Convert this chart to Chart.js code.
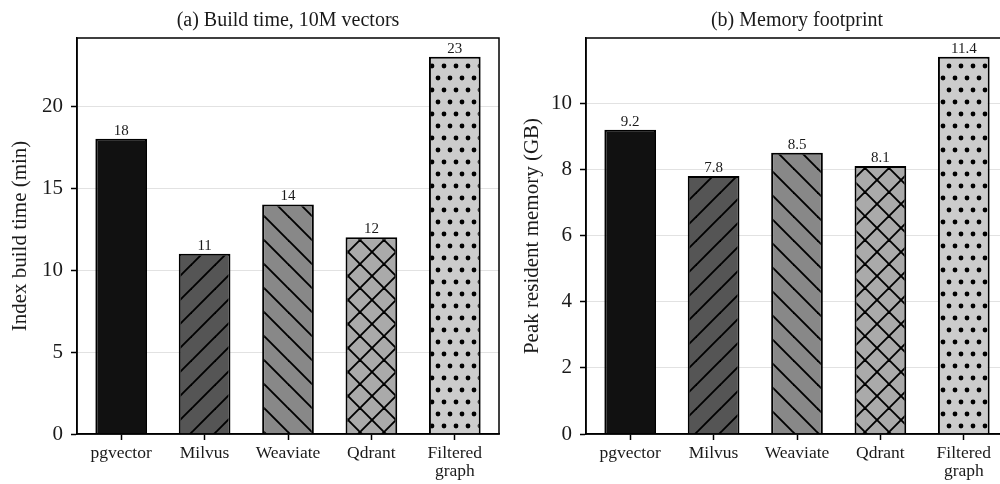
<!DOCTYPE html>
<html>
<head>
<meta charset="utf-8">
<script src="https://cdn.jsdelivr.net/npm/chart.js@4.4.1/dist/chart.umd.min.js"></script>
<style>
  html, body { margin: 0; padding: 0; background: #fff; overflow: hidden; width: 1000px; height: 484px; }
  .panel { position: absolute; top: 0; width: 510px; height: 484px; }
  #left { left: 0; }
  #right { left: 505px; }
</style>
</head>
<body>
<div class="panel" id="left"><canvas id="buildChart" width="510" height="484"></canvas></div>
<div class="panel" id="right"><canvas id="memChart" width="510" height="484"></canvas></div>
<script>
// data
const systems = [['pgvector'], ['Milvus'], ['Weaviate'], ['Qdrant'], ['Filtered', 'graph']];
const buildMinutes = [18, 11, 14, 12, 23];
const memoryGB = [9.2, 7.8, 8.5, 8.1, 11.4];
const buildTicks = [0, 5, 10, 15, 20];
const memTicks = [0, 2, 4, 6, 8, 10];

const FONT = '"Liberation Serif", "Times New Roman", serif';
const INK = '#1a1a1a';

// bar fills: shade + hatch, one per system
const fills = [
    { color: '#111111', hatch: null },
    { color: '#555555', hatch: '/' },
    { color: '#888888', hatch: '\\' },
    { color: '#aaaaaa', hatch: 'x' },
    { color: '#cccccc', hatch: 'dots' },
];

function makeFill(ctx, f) {
    if (!f.hatch) return f.color;
    const s = 24;
    const tile = document.createElement('canvas');
    tile.width = f.hatch === 'dots' ? 12 : s;
    tile.height = s;
    const g = tile.getContext('2d');
    g.fillStyle = f.color;
    g.fillRect(0, 0, tile.width, tile.height);
    g.strokeStyle = '#000';
    g.fillStyle = '#000';
    g.lineWidth = 1.9;
    const line = (x1, y1, x2, y2) => { g.beginPath(); g.moveTo(x1, y1); g.lineTo(x2, y2); g.stroke(); };
    if (f.hatch === '/' || f.hatch === 'x') {
        line(-2, s + 2, s + 2, -2);
        line(-2, 2, 2, -2);
        line(s - 2, s + 2, s + 2, s - 2);
    }
    if (f.hatch === '\\' || f.hatch === 'x') {
        line(-2, -2, s + 2, s + 2);
        line(s - 2, -2, s + 2, 2);
        line(-2, s - 2, 2, s + 2);
    }
    if (f.hatch === 'dots') {
        [[6, 6], [0, 18], [12, 18]].forEach(([x, y]) => {
            g.beginPath(); g.arc(x, y, 2.4, 0, Math.PI * 2); g.fill();
        });
    }
    return ctx.createPattern(tile, 'repeat');
}

// numbers above the bars
const valueLabels = {
    id: 'valueLabels',
    afterDatasetsDraw(chart, args, opts) {
        const ctx = chart.ctx;
        const ds = chart.data.datasets[0];
        ctx.save();
        ctx.font = '15px ' + FONT;
        ctx.fillStyle = INK;
        ctx.textAlign = 'center';
        ctx.textBaseline = 'alphabetic';
        chart.getDatasetMeta(0).data.forEach((bar, i) => {
            ctx.fillText(opts.fmt(ds.data[i].y), bar.x, bar.y - 4);
        });
        ctx.restore();
    }
};

// closed box round the axes
const frame = {
    id: 'frame',
    afterDraw(chart) {
        const { ctx, chartArea: a } = chart;
        ctx.save();
        ctx.strokeStyle = '#000';
        ctx.lineWidth = 1.5;
        ctx.strokeRect(a.left, a.top, a.right - a.left, a.bottom - a.top);
        ctx.restore();
    }
};

function panel(canvasId, cfg) {
    const canvas = document.getElementById(canvasId);
    const ctx = canvas.getContext('2d');
    return new Chart(ctx, {
        type: 'bar',
        data: {
            datasets: [{
                data: cfg.values.map((v, i) => ({ x: i, y: v })),
                backgroundColor: fills.map(f => makeFill(ctx, f)),
                borderColor: '#000',
                borderWidth: 2,
                barPercentage: 0.62,
                categoryPercentage: 1
            }]
        },
        plugins: [valueLabels, frame],
        options: {
            responsive: false,
            animation: false,
            layout: { padding: { left: 0, right: cfg.padRight, top: 0, bottom: 0 } },
            scales: {
                x: {
                    type: 'linear',
                    min: -0.53,
                    max: systems.length - 0.47,
                    offset: false,
                    afterBuildTicks: s => { s.ticks = systems.map((_, i) => ({ value: i })); },
                    ticks: {
                        callback: v => systems[v],
                        font: { family: FONT, size: 17.5, lineHeight: 1.05 },
                        color: INK,
                        padding: 4,
                        autoSkip: false,
                        maxRotation: 0
                    },
                    grid: { drawOnChartArea: false, offset: false, tickColor: '#000', tickLength: 6, tickWidth: 1.5 },
                    border: { color: '#000', width: 1.5 },
                    afterFit: s => { s.height = 50; }
                },
                y: {
                    min: 0,
                    max: Math.max(...cfg.values) * 1.05,
                    z: 1,
                    afterBuildTicks: s => { s.ticks = cfg.ticks.map(v => ({ value: v })); },
                    ticks: {
                        font: { family: FONT, size: 21 },
                        color: INK,
                        padding: 8,
                        callback: v => String(v)
                    },
                    grid: { color: 'rgba(190,190,190,0.45)', lineWidth: 1, tickColor: '#000', tickLength: 6, tickWidth: 1.5 },
                    border: { color: '#000', width: 1.5 },
                    title: {
                        display: true,
                        text: cfg.yTitle,
                        font: { family: FONT, size: 21 },
                        color: INK,
                        padding: { top: cfg.titlePad, bottom: 0 }
                    },
                    afterFit: s => { s.width = cfg.axisWidth; }
                }
            },
            plugins: {
                legend: { display: false },
                tooltip: { enabled: false },
                title: {
                    display: true,
                    text: cfg.title,
                    fullSize: false,
                    font: { family: FONT, size: 20, weight: 'normal', lineHeight: 1.2 },
                    color: INK,
                    padding: { top: 8.5, bottom: 5.5 }
                },
                valueLabels: { fmt: cfg.fmt }
            }
        }
    });
}

panel('buildChart', {
    values: buildMinutes,
    ticks: buildTicks,
    title: '(a) Build time, 10M vectors',
    yTitle: 'Index build time (min)',
    fmt: v => String(v),
    axisWidth: 77,
    titlePad: 8,
    padRight: 11
});

panel('memChart', {
    values: memoryGB,
    ticks: memTicks,
    title: '(b) Memory footprint',
    yTitle: 'Peak resident memory (GB)',
    fmt: v => v.toFixed(1),
    axisWidth: 81,
    titlePad: 14.4,
    padRight: 7
});
</script>
</body>
</html>
